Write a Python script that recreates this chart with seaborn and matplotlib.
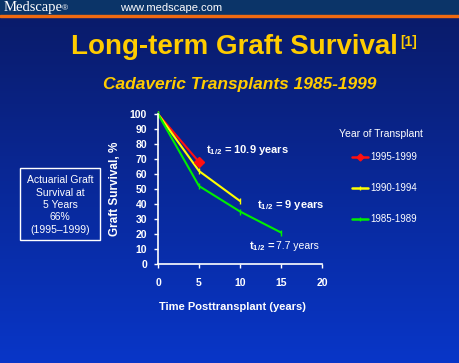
import numpy as np
import pandas as pd
import matplotlib
matplotlib.use("Agg")
import matplotlib.pyplot as plt
import seaborn as sns
from matplotlib.colors import LinearSegmentedColormap

sns.set_style("white")
plt.rcParams['font.family'] = ['Liberation Sans', 'DejaVu Sans']
plt.rcParams['mathtext.fontset'] = 'custom'
plt.rcParams['mathtext.rm'] = 'Liberation Sans'
plt.rcParams['mathtext.bf'] = 'Liberation Sans:bold'

# data
groups = ["1995-1999", "1990-1994", "1985-1989"]
years_9599 = [0, 5]
surv_9599 = [100, 68]
years_9094 = [0, 5, 10]
surv_9094 = [100, 62, 42]
years_8589 = [0, 5, 10, 15]
surv_8589 = [100, 52, 35, 21]
colors = ["#ff1010", "#ffff00", "#00ee00"]
x_ticks = [0, 5, 10, 15, 20]
y_ticks = [0, 10, 20, 30, 40, 50, 60, 70, 80, 90, 100]

df = pd.concat([
    pd.DataFrame({"year": years_9599, "surv": surv_9599, "group": groups[0]}),
    pd.DataFrame({"year": years_9094, "surv": surv_9094, "group": groups[1]}),
    pd.DataFrame({"year": years_8589, "surv": surv_8589, "group": groups[2]}),
])

fig = plt.figure(figsize=(4.6, 3.63), dpi=100)

# background gradient + header bar
bg = fig.add_axes([0, 0, 1, 1], zorder=-10)
cmap = LinearSegmentedColormap.from_list("bg", ["#0a1a66", "#0836c8"])
bg.imshow(np.linspace(0, 1, 256).reshape(-1, 1), aspect="auto", cmap=cmap,
          extent=[0, 1, 0, 1], origin="upper")
bg.add_patch(plt.Rectangle((0, 1 - 15/363), 1, 15/363, color="#0b3468",
                           transform=bg.transAxes))
bg.add_patch(plt.Rectangle((0, 1 - 17/363), 1, 2/363, color="#f06a10",
                           transform=bg.transAxes))
bg.set_xlim(0, 1); bg.set_ylim(0, 1)
bg.axis("off")

fig.text(4/460, 1 - 8/363, "Medscape", family="Liberation Serif", color="white",
         fontsize=10.5, va="center")
fig.text(62/460, 1 - 8.5/363, "®", color="white", fontsize=6, va="center")
fig.text(120/460, 1 - 8/363, "www.medscape.com", color="white", fontsize=8, va="center")

fig.text(71/460, 1 - 47/363, "Long-term Graft Survival", color="#ffcc00",
         fontsize=20, fontweight="bold", ha="left", va="center")
fig.text(400/460, 1 - 42/363, "[1]", color="#ffcc00", fontsize=10,
         fontweight="bold", va="center")
fig.text(240/460, 1 - 84/363, "Cadaveric Transplants 1985-1999", color="#ffcc00",
         fontsize=12.5, fontweight="bold", style="italic", ha="center", va="center")

ax = fig.add_axes([158/460, 1 - 264/363, 164/460, 150/363])
ax.patch.set_alpha(0)
sns.lineplot(data=df, x="year", y="surv", hue="group", hue_order=groups,
             palette=colors, ax=ax, legend=False, linewidth=1.5)
ax.plot(years_9599[-1], surv_9599[-1], marker="D", color=colors[0], markersize=5, clip_on=False)
for c, xs, ys in [(colors[1], years_9094, surv_9094), (colors[2], years_8589, surv_8589)]:
    ax.plot(xs, ys, ls="none", marker="|", color=c, markersize=4, clip_on=False)

ax.set_xlim(0, 20)
ax.set_ylim(0, 100)
ax.set_xticks(x_ticks)
ax.set_yticks(y_ticks)
for s in ["top", "right"]:
    ax.spines[s].set_visible(False)
for s in ["left", "bottom"]:
    ax.spines[s].set_color("white")
    ax.spines[s].set_linewidth(1.2)
ax.tick_params(colors="white", labelsize=7.5, length=3, width=1, direction="out",
               left=True, bottom=True)
ax.tick_params(axis="x", pad=7)
ax.tick_params(axis="y", pad=5)
for lbl in ax.get_xticklabels() + ax.get_yticklabels():
    lbl.set_fontweight("bold")
ax.set_xlabel("")
ax.set_ylabel("Graft Survival, %", color="white", fontsize=8.5,
              fontweight="bold", labelpad=6)
fig.text(232/460, 1 - 307/363, "Time Posttransplant (years)", color="white",
         fontsize=8, fontweight="bold", ha="center", va="center")

ax.text(5.85, 76, r"t$_{\mathbf{1/2}}$ = 10.9 years", color="white", fontsize=8,
        fontweight="bold", va="center")
ax.text(12.1, 39.3, r"t$_{\mathbf{1/2}}$ = 9 years", color="white", fontsize=8,
        fontweight="bold", va="center")
ax.text(11.1, 12, r"t$_{\mathbf{1/2}}$ =", color="white", fontsize=8,
        fontweight="bold", va="center")
ax.text(14.4, 12, "7.7 years", color="white", fontsize=7.5, va="center")

# legend
fig.text(339/460, 1 - 134/363, "Year of Transplant", color="white", fontsize=7.5,
         va="center")
for i, (g, c) in enumerate(zip(groups, colors)):
    yy = 1 - (157 + i * 31) / 363
    fig.add_artist(plt.Line2D([352/460, 368/460], [yy, yy], color=c, lw=1.8))
    fig.add_artist(plt.Line2D([360/460], [yy], color=c, marker="D" if i == 0 else "|",
                              markersize=3.5))
    fig.text(370/460, yy, g, color="white", fontsize=7, va="center")

# text box
fig.add_artist(plt.Rectangle((20/460, 1 - 240/363), 80/460, 72/363, fill=False,
                             edgecolor="white", lw=1, transform=fig.transFigure))
fig.text(60/460, 1 - 205/363, "Actuarial Graft\nSurvival at\n5 Years\n66%\n(1995\u20131999)",
         color="white", fontsize=7.5, ha="center", va="center", linespacing=1.3)

fig.savefig("out.png", dpi=100)
